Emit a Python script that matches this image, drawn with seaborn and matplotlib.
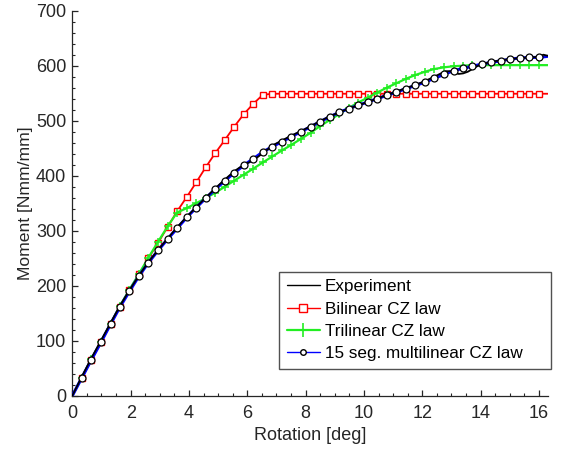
import matplotlib
matplotlib.use("Agg")
import matplotlib.pyplot as plt
import seaborn as sns
import pandas as pd
from matplotlib.lines import Line2D
from matplotlib.ticker import MultipleLocator

# ---------------- data ----------------
rotation = [0.00, 0.33, 0.65, 0.98, 1.31, 1.63, 1.96, 2.29, 2.61, 2.94, 3.27, 3.59, 3.92, 4.25,
            4.57, 4.90, 5.23, 5.55, 5.88, 6.21, 6.53, 6.86, 7.19, 7.51, 7.84, 8.17, 8.49, 8.82,
            9.15, 9.47, 9.80, 10.13, 10.45, 10.78, 11.11, 11.43, 11.76, 12.09, 12.41, 12.74,
            13.07, 13.39, 13.72, 14.05, 14.37, 14.70, 15.02, 15.35, 15.67, 16.00, 16.30]

bilinear = [0, 33, 65, 97, 130, 162, 192, 221, 250, 278, 307, 335, 361, 388, 415, 441, 465, 489,
            512, 531, 547, 549, 549, 549, 549, 549, 549, 549, 549, 549, 549, 549, 549, 549, 549,
            549, 549, 549, 549, 549, 549, 549, 549, 549, 549, 549, 549, 549, 549, 549, 549]

trilinear = [0, 33, 66, 98, 131, 163, 193, 222, 251, 280, 308, 333, 341, 350, 359, 369, 380, 391,
             402, 413, 424, 435, 446, 456, 467, 478, 490, 501, 512, 523, 533, 542, 551, 560, 568,
             576, 583, 589, 594, 597, 599, 600, 601, 601, 601, 601, 601, 601, 601, 601, 601]

multilinear = [0, 33, 65, 97, 130, 161, 190, 218, 242, 264, 285, 304, 324, 342, 359, 375, 391,
               405, 419, 431, 443, 453, 462, 471, 480, 489, 498, 507, 515, 522, 528, 534, 540,
               546, 552, 558, 564, 570, 577, 584, 591, 595, 599, 603, 606, 609, 612, 614, 615,
               615, 617]

exp_rotation = [0.00, 0.33, 0.65, 0.98, 1.31, 1.63, 1.96, 2.29, 2.61, 2.94, 3.27, 3.59, 3.92,
                4.25, 4.57, 4.90, 5.23, 5.55, 5.88, 6.05, 6.21, 6.53, 6.70, 6.86, 7.19, 7.51,
                7.84, 8.17, 8.49, 8.82, 9.15, 9.47, 9.80, 10.13, 10.45, 10.78, 11.11, 11.43,
                11.76, 12.09, 12.41, 12.60, 12.80, 12.95, 13.10, 13.25, 13.40, 13.56, 13.72,
                13.88, 14.05, 14.37, 14.70, 15.02, 15.35, 15.67, 16.00, 16.15, 16.30]
exp_moment = [0, 35, 68, 100, 132, 163, 192, 219, 243, 265, 286, 306, 325, 343, 360, 377, 393,
              408, 420, 424, 428, 441, 448, 455, 464, 473, 481, 490, 499, 508, 515, 522, 528,
              534, 540, 547, 553, 559, 565, 572, 580, 585, 590, 590, 587, 585, 586, 589, 594,
              599, 603, 607, 610, 612, 614, 615, 616, 620, 618]

labels = ["Experiment", "Bilinear CZ law", "Trilinear CZ law", "15 seg. multilinear CZ law"]
x_label = "Rotation [deg]"
y_label = "Moment [Nmm/mm]"

# ---------------- style ----------------
sns.set_theme(style="ticks")
plt.rcParams['font.family'] = ['Liberation Sans', 'DejaVu Sans']
dark = '#262626'

fig = plt.figure(figsize=(5.79, 4.53), dpi=100)
ax = fig.add_axes([0.1249, 0.1265, 0.947 - 0.1249, 0.9764 - 0.1265])

df = pd.DataFrame({"rot": rotation, "bi": bilinear, "tri": trilinear, "multi": multilinear})
dfe = pd.DataFrame({"rot": exp_rotation, "m": exp_moment})
mk = list(range(1, len(rotation) - 1))

red = '#ff0000'
green = '#22ee22'
blue = '#0000ff'

sns.lineplot(data=df, x="rot", y="bi", ax=ax, color=red, lw=1.3, marker='s', markersize=4.3,
             markerfacecolor='white', markeredgecolor=red, markeredgewidth=1.0,
             markevery=mk, sort=False, zorder=2)
sns.lineplot(data=df, x="rot", y="tri", ax=ax, color=green, lw=1.6, marker='+', markersize=6,
             markeredgecolor=green, markeredgewidth=1.1, markevery=mk, sort=False, zorder=2)
sns.lineplot(data=df, x="rot", y="multi", ax=ax, color=blue, lw=2.2, sort=False, zorder=3)
sns.lineplot(data=dfe, x="rot", y="m", ax=ax, color='black', lw=1.3, sort=False, zorder=4)
sns.lineplot(data=df, x="rot", y="multi", ax=ax, color=blue, lw=0, marker='o', markersize=5.0,
             markerfacecolor='white', markeredgecolor='black', markeredgewidth=0.9,
             markevery=mk, sort=False, zorder=5)

ax.set_xlim(0, 16.32)
ax.set_ylim(0, 700)
ax.xaxis.set_major_locator(MultipleLocator(2))
ax.xaxis.set_minor_locator(MultipleLocator(0.5))
ax.yaxis.set_major_locator(MultipleLocator(100))
ax.yaxis.set_minor_locator(MultipleLocator(20))
ax.tick_params(axis='both', which='major', direction='in', length=4, width=0.9,
               color=dark, labelcolor=dark, labelsize=13)
ax.tick_params(axis='x', which='major', pad=7)
ax.tick_params(axis='y', which='major', pad=4.3)
ax.tick_params(axis='both', which='minor', direction='in', length=2.2, width=0.8, color=dark)
for s in ['top', 'right']:
    ax.spines[s].set_visible(False)
for s in ['left', 'bottom']:
    ax.spines[s].set_color(dark)
    ax.spines[s].set_linewidth(0.9)

ax.set_xlabel(x_label, fontsize=13, color=dark, labelpad=3)
ax.set_ylabel(y_label, fontsize=12.6, color=dark, labelpad=2)

handles = [
    Line2D([], [], color='black', lw=1.0),
    Line2D([], [], color=red, lw=1.0, marker='s', markersize=6, markerfacecolor='white',
           markeredgecolor=red),
    Line2D([], [], color=green, lw=1.6, marker='+', markersize=10, markeredgecolor=green,
           markeredgewidth=1.2),
    Line2D([], [], color=blue, lw=1.0, marker='o', markersize=4, markerfacecolor='white',
           markeredgecolor='black'),
]
leg = ax.legend(handles, labels, loc='upper left', bbox_to_anchor=(0.435, 0.322, 0.571, 0.0),
                mode='expand', borderaxespad=0, fancybox=False, frameon=True, fontsize=12.3,
                handlelength=1.9, handletextpad=0.3, labelspacing=0.42, borderpad=0.45,
                edgecolor=dark)
leg.get_frame().set_linewidth(1.0)
for t in leg.get_texts():
    t.set_color('black')

fig.savefig("out.png", dpi=100)
